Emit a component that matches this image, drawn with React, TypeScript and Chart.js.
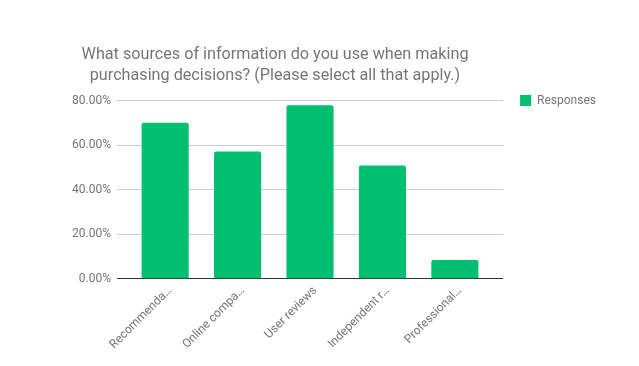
import React, { useEffect, useRef } from 'react';
import { Chart, registerables } from 'chart.js';

Chart.register(...registerables);

const TITLE_LINES = [
  'What sources of information do you use when making',
  'purchasing decisions? (Please select all that apply.)',
];
const CATEGORIES = ['Recommenda…', 'Online compa…', 'User reviews', 'Independent r…', 'Professional…'];
const SERIES_NAME = 'Responses';
const RESPONSES = [70.1, 57.2, 77.9, 50.9, 8.4];
const Y_MIN = 0;
const Y_MAX = 80;
const Y_STEP = 20;

const TEXT_COLOR = '#757575';
const BAR_COLOR = '#00bf6f';

export default function App() {
  const ref = useRef<HTMLCanvasElement>(null);

  useEffect(() => {
    if (!ref.current) return;
    Chart.defaults.font.family = 'Roboto';
    const font = { family: 'Roboto', size: 12 };
    const gridColor = (ctx: any) => (ctx.tick && ctx.tick.value === 0 ? '#333333' : '#cccccc');
    const chart = new Chart(ref.current, {
      type: 'bar',
      data: {
        labels: CATEGORIES,
        datasets: [
          {
            label: SERIES_NAME,
            data: RESPONSES,
            backgroundColor: BAR_COLOR,
            borderWidth: 0,
            borderRadius: 2,
            borderSkipped: 'bottom',
            categoryPercentage: 0.65,
            barPercentage: 1,
          },
        ],
      },
      options: {
        animation: false,
        responsive: false,
        maintainAspectRatio: false,
        layout: { padding: { top: 77.5, right: 33, bottom: 9, left: 66 } },
        plugins: {
          title: {
            display: true,
            text: '',
            padding: { top: 22.2, bottom: 0 },
            font: { size: 1, lineHeight: 1 },
          },
          legend: {
            position: 'right',
            align: 'start',
            maxWidth: 140,
            labels: { boxWidth: 11, boxHeight: 11, padding: 17, color: TEXT_COLOR, font },
          },
          tooltip: { enabled: false },
        },
        scales: {
          x: {
            grid: { display: false, drawTicks: false },
            border: { display: false },
            ticks: {
              color: TEXT_COLOR,
              font,
              minRotation: 45,
              maxRotation: 45,
              padding: 5,
              labelOffset: 5,
              autoSkip: false,
            },
          },
          y: {
            min: Y_MIN,
            max: Y_MAX,
            ticks: {
              stepSize: Y_STEP,
              color: TEXT_COLOR,
              font,
              padding: 6,
              callback: (v: any) => Number(v).toFixed(2) + '%',
            },
            grid: { color: gridColor, tickColor: gridColor, tickLength: 12, drawTicks: true },
            border: { display: false },
          },
          y2: {
            position: 'right',
            min: Y_MIN,
            max: Y_MAX,
            ticks: { display: false, stepSize: Y_STEP },
            grid: { drawOnChartArea: false, color: gridColor, tickColor: gridColor, tickLength: 12, drawTicks: true },
            border: { display: false },
          },
        },
      },
    } as any);
    return () => chart.destroy();
  }, []);

  return (
    <div style={{ position: 'absolute', left: 0, top: 0, width: 639, height: 366, background: '#ffffff' }}>
      <canvas ref={ref} width={639} height={366} style={{ position: 'absolute', left: 0, top: 0, width: 639, height: 366 }} />
      <div
        style={{
          position: 'absolute',
          left: 0,
          top: 43,
          width: 550,
          textAlign: 'center',
          fontFamily: 'Roboto',
          fontSize: 16.2,
          lineHeight: '21px',
          color: TEXT_COLOR,
          whiteSpace: 'nowrap',
        }}
      >
        {TITLE_LINES.map((line, i) => (
          <div key={i}>{line}</div>
        ))}
      </div>
    </div>
  );
}
